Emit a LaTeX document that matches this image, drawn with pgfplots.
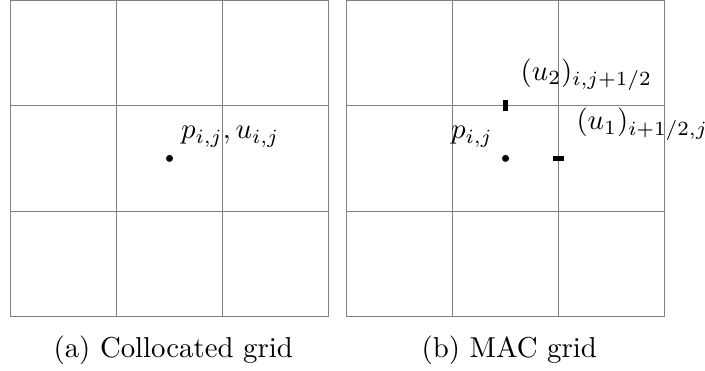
\documentclass[border=0pt]{standalone}
\usepackage{pgfplots}
\pgfplotsset{compat=1.18}
\begin{document}
\begin{tikzpicture}
\path[use as bounding box] (0,0) rectangle (244.8pt,128.5pt);
\pgfplotsset{gridpanel/.style={
  scale only axis, width=110.3pt, height=110pt,
  xmin=0, xmax=3, ymin=0, ymax=3,
  xtick={1,2}, ytick={1,2}, xticklabels={}, yticklabels={},
  major tick length=0pt, grid=major,
  grid style={gray, line width=0.4pt},
  axis line style={gray, line width=0.4pt},
  clip=false,
  xlabel style={at={(axis description cs:0.5,0)}, anchor=base, yshift=-14.3pt, xshift=1.3pt, inner sep=0pt},
}}
\begin{axis}[gridpanel, at={(3.72pt,18.5pt)}, anchor=south west, xlabel={(a) Collocated grid}]
\addplot[only marks, mark=*, mark size=1pt, black] coordinates {(1.5,1.5)};
\node[anchor=base west, inner sep=0pt] at (axis cs:1.605,1.684) {$p_{i,j}, u_{i,j}$};
\end{axis}
\begin{axis}[gridpanel, at={(120.4pt,18.5pt)}, anchor=south west, xlabel={(b) MAC grid}]
\addplot[only marks, mark=*, mark size=1pt, black] coordinates {(1.5,1.5)};
\addplot[black, line width=1.8pt] coordinates {(1.946,1.5) (2.054,1.5)};
\addplot[black, line width=2pt] coordinates {(1.5,1.946) (1.5,2.054)};
\node[anchor=base east, inner sep=0pt] at (axis cs:1.385,1.684) {$p_{i,j}$};
\node[anchor=base west, inner sep=0pt] at (axis cs:1.637,2.238) {$(u_2)_{i,j+1/2}$};
\node[anchor=base west, inner sep=0pt] at (axis cs:2.165,1.769) {$(u_1)_{i+1/2,j}$};
\end{axis}
\end{tikzpicture}
\end{document}
